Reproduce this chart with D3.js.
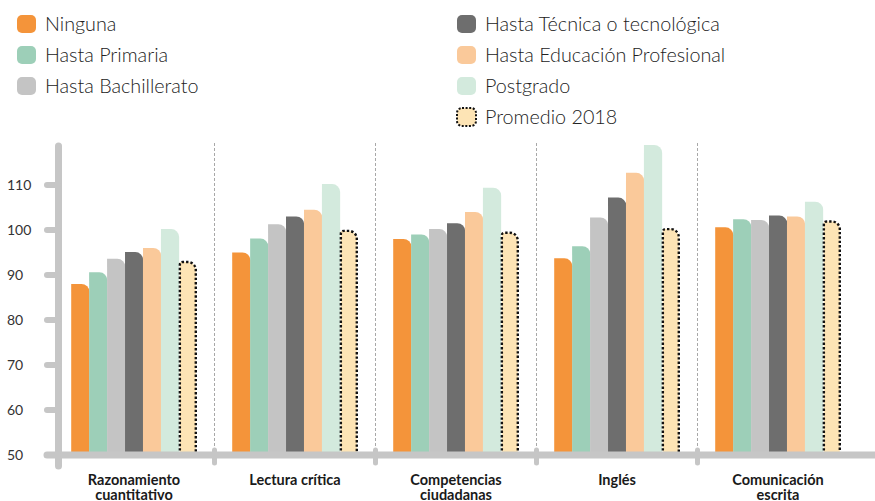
<!DOCTYPE html>
<html>
<head>
<meta charset="utf-8">
<script src="https://cdn.jsdelivr.net/npm/d3@7"></script>
<style>
  body { margin: 0; background: #fff; }
  svg { display: block; }
  .tickLabel { font-family: Lato, sans-serif; font-size: 14px; fill: #333; }
  .groupLabel { font-family: Lato, sans-serif; font-size: 14.5px; font-weight: 700; fill: #1a1a1a; }
  .legendText { font-family: Lato, sans-serif; font-size: 20px; font-weight: 300; fill: #222; }
</style>
</head>
<body>
<svg id="chart" width="875" height="501"></svg>
<script>
const categories = [
  ['Razonamiento', 'cuantitativo'],
  ['Lectura crítica'],
  ['Competencias', 'ciudadanas'],
  ['Inglés'],
  ['Comunicación', 'escrita']
]
const series = [
  'Ninguna', 'Hasta Primaria', 'Hasta Bachillerato',
  'Hasta Técnica o tecnológica', 'Hasta Educación Profesional', 'Postgrado', 'Promedio 2018'
]
const colors = ['#f4943a', '#9dcfb8', '#c4c4c4', '#6e6e6e', '#fac99a', '#d3eadd', '#fde4b5']

const ninguna      = [88.0, 95.0, 98.0, 93.7, 100.6]
const primaria     = [90.6, 98.1, 99.0, 96.4, 102.4]
const bachillerato = [93.6, 101.3, 100.2, 102.8, 102.2]
const tecnica      = [95.1, 103.0, 101.5, 107.2, 103.2]
const profesional  = [96.0, 104.5, 104.0, 112.7, 103.0]
const postgrado    = [100.2, 110.2, 109.4, 118.9, 106.3]
const promedio     = [92.9, 99.8, 99.4, 100.2, 101.9]
const values = [ninguna, primaria, bachillerato, tecnica, profesional, postgrado, promedio]

const yTicks = [50, 60, 70, 80, 90, 100, 110]

const svg = d3.select('#chart')
const catKeys = categories.map(c => c.join(' '))

const x0 = d3.scaleBand()
  .domain(catKeys)
  .range([53.5, 858.5])
  .paddingInner(0.22)
  .paddingOuter(0.11)

const x1 = d3.scaleBand()
  .domain(series)
  .range([0, x0.bandwidth()])

const y = d3.scaleLinear()
  .domain([50, 120])
  .range([455, 140])

const axisColor = '#c6c6c6'

// bar shape: square bottom, rounded top-right corner
function barPath(x, yTop, w, yBase, r) {
  r = Math.min(r, w / 2, yBase - yTop)
  return `M${x},${yBase} L${x},${yTop} L${x + w - r},${yTop} ` +
    `A${r},${r} 0 0 1 ${x + w},${yTop + r} L${x + w},${yBase} Z`
}
function barOutline(x, yTop, w, yBase, r) {
  r = Math.min(r, w / 2, yBase - yTop)
  return `M${x},${yBase} L${x},${yTop + 3} Q${x},${yTop} ${x + 3},${yTop} L${x + w - r},${yTop} ` +
    `A${r},${r} 0 0 1 ${x + w},${yTop + r} L${x + w},${yBase}`
}

const sepX = d => x0(d) - x0.step() * x0.paddingInner() / 2
const seps = catKeys.slice(1)

// dashed separators between groups
svg.append('g')
  .selectAll('line')
  .data(seps)
  .join('line')
  .attr('x1', sepX)
  .attr('x2', sepX)
  .attr('y1', 143)
  .attr('y2', y(50))
  .attr('stroke', '#a8a8a8')
  .attr('stroke-width', 1)
  .attr('stroke-dasharray', '3,2')

// bars
const groups = svg.append('g')
  .selectAll('g')
  .data(catKeys)
  .join('g')
  .attr('transform', d => `translate(${x0(d)},0)`)

groups.each(function (cat, ci) {
  const g = d3.select(this)
  series.forEach((s, si) => {
    const v = values[si][ci]
    const bx = x1(s)
    const bw = x1.bandwidth()
    if (si === series.length - 1) {
      g.append('path')
        .attr('d', barPath(bx + 1, y(v), bw - 2, y(50), 8))
        .attr('fill', colors[si])
      g.append('path')
        .attr('d', barOutline(bx + 1, y(v), bw - 2, y(50), 8))
        .attr('fill', 'none')
        .attr('stroke', '#111')
        .attr('stroke-width', 2.4)
        .attr('stroke-dasharray', '2.4,2')
    } else {
      g.append('path')
        .attr('d', barPath(bx, y(v), bw + 0.3, y(50), 8))
        .attr('fill', colors[si])
    }
  })
})

// x axis line with knobs at separators
svg.append('line')
  .attr('x1', 47).attr('x2', 880)
  .attr('y1', y(50)).attr('y2', y(50))
  .attr('stroke', axisColor)
  .attr('stroke-width', 7)
  .attr('stroke-linecap', 'round')

svg.append('g')
  .selectAll('line')
  .data(seps)
  .join('line')
  .attr('x1', sepX)
  .attr('x2', sepX)
  .attr('y1', y(50) - 5)
  .attr('y2', y(50) + 8)
  .attr('stroke', axisColor)
  .attr('stroke-width', 5)
  .attr('stroke-linecap', 'round')

// y axis
svg.append('line')
  .attr('x1', 58.5).attr('x2', 58.5)
  .attr('y1', 146).attr('y2', 466)
  .attr('stroke', axisColor)
  .attr('stroke-width', 7)
  .attr('stroke-linecap', 'round')

svg.append('g')
  .selectAll('line')
  .data(yTicks)
  .join('line')
  .attr('x1', 47).attr('x2', 58)
  .attr('y1', d => y(d)).attr('y2', d => y(d))
  .attr('stroke', axisColor)
  .attr('stroke-width', 6)
  .attr('stroke-linecap', 'round')

svg.append('g')
  .selectAll('text')
  .data(yTicks)
  .join('text')
  .attr('class', 'tickLabel')
  .attr('x', 7)
  .attr('y', d => y(d) + 5)
  .text(d => d)

// group labels
const labels = svg.append('g')
  .selectAll('text')
  .data(categories)
  .join('text')
  .attr('class', 'groupLabel')
  .attr('text-anchor', 'middle')
  .attr('x', (d, i) => x0(catKeys[i]) + x0.bandwidth() / 2)
  .attr('y', 485)

labels.selectAll('tspan')
  .data(d => d)
  .join('tspan')
  .attr('x', function () { return d3.select(this.parentNode).attr('x') })
  .attr('dy', (d, i) => i === 0 ? 0 : 15)
  .text(d => d)

// legend
const legendCols = [17, 457]
const legendRows = [24, 55, 86, 117]
const legend = svg.append('g')
series.forEach((s, i) => {
  const col = i < 3 ? 0 : 1
  const row = i < 3 ? i : i - 3
  const item = legend.append('g')
    .attr('transform', `translate(${legendCols[col]},${legendRows[row]})`)
  item.append('rect')
    .attr('x', 0).attr('y', -9)
    .attr('width', 19).attr('height', 18)
    .attr('rx', 5)
    .attr('fill', colors[i])
    .attr('stroke', i === series.length - 1 ? '#111' : 'none')
    .attr('stroke-width', 2)
    .attr('stroke-dasharray', '2,1.6')
  item.append('text')
    .attr('class', 'legendText')
    .attr('x', 0)
    .attr('y', 7)
    .text(s)
})

// fit the legend face to the width of the original
const ref = legend.selectAll('text')
  .filter(function () { return this.textContent === 'Hasta Técnica o tecnológica' })
  .node()
const k = 235 / ref.getComputedTextLength()
legend.selectAll('text')
  .attr('transform', `translate(28,0) scale(${k},1)`)
</script>
</body>
</html>
